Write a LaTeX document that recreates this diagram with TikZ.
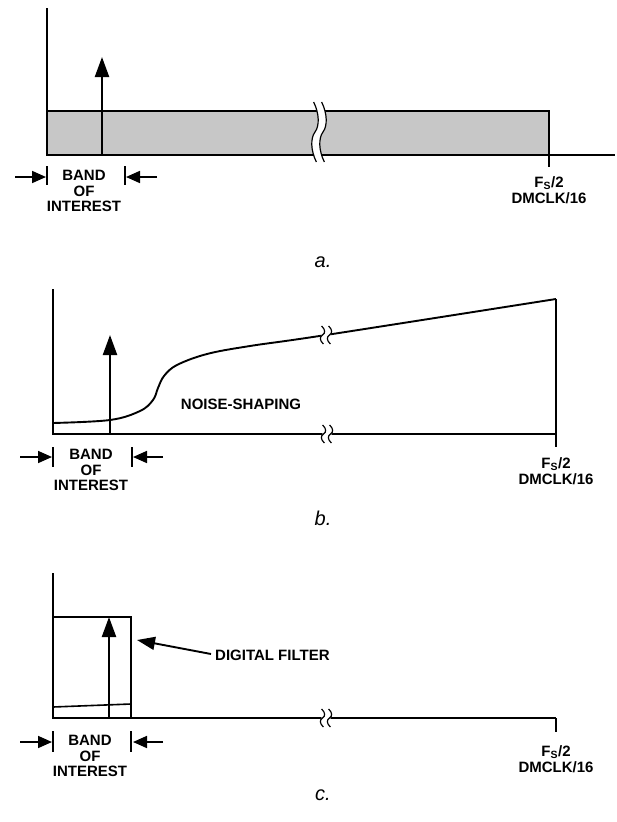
\documentclass[tikz,border=0pt]{standalone}
\usepackage{fontspec}
\setmainfont{Liberation Sans}
\usetikzlibrary{arrows.meta}
\tikzset{
  axisln/.style={line width=1.4pt},
  sigarr/.style={line width=2.3pt, -{Triangle[length=20pt,width=14pt]}},
  bandarr/.style={line width=1.7pt, -{Triangle[length=14pt,width=12pt]}},
  tickln/.style={line width=1.2pt},
  lbl/.style={font=\fontsize{15}{15.5}\selectfont\bfseries, inner sep=0pt, align=center},
  capt/.style={font=\fontsize{20}{22}\selectfont\itshape, inner sep=0pt},
  noise/.style={line width=1.9pt},
  brkln/.style={line width=1.2pt},
}
\newcommand\spath[4]{({#1-0.3*#4},{#2-#3}) .. controls ({#1+#4},{#2-0.6*#3}) and ({#1+#4},{#2-0.2*#3}) .. ({#1},{#2}) .. controls ({#1-#4},{#2+0.2*#3}) and ({#1-#4},{#2+0.6*#3}) .. ({#1+0.3*#4},{#2+#3})}
\newcommand\mybreak[5]{%
  \draw[white, line width=#5pt] \spath{#1}{#2}{#3}{#4};
  \draw[brkln] \spath{#1-#5/2}{#2}{#3}{#4};
  \draw[brkln] \spath{#1+#5/2}{#2}{#3}{#4};
}
\begin{document}
\begin{tikzpicture}[x=1pt,y=-1pt]
\useasboundingbox (0,0) rectangle (616,822);

% ---------------- panel a ----------------
\coordinate (aO) at (47,155);
\coordinate (aTop) at (47,8);
\coordinate (aEnd) at (615,155);
\coordinate (aFs) at (549,155);
\coordinate (aFsT) at (549,167);
\coordinate (aSig) at (102,155);
\coordinate (aSigT) at (102,57);
\fill[black!22] (47,111) rectangle (549,155);
\draw[axisln] (47,111) -- (549,111) -- (aFs);
\draw[axisln] (aTop) -- (aO) -- (aEnd);
\draw[tickln] (aFs) -- (aFsT);
\draw[sigarr] (aSig) -- (aSigT);
\mybreak{319}{132}{30}{4.5}{8}
% band of interest
\coordinate (aL0) at (15,177);
\coordinate (aL1) at (46,177);
\coordinate (aR0) at (157,177);
\coordinate (aR1) at (126,177);
\draw[tickln] (47,166) -- (47,185);
\draw[tickln] (125,166) -- (125,185);
\draw[bandarr] (aL0) -- (aL1);
\draw[bandarr] (aR0) -- (aR1);
\node[lbl] (aband) at (84,191) {BAND\\OF\\INTEREST};
\node[lbl] (afs) at (549,190) {F\textsubscript{S}/2\\DMCLK/16};
\node[capt] (acap) at (323,262) {a.};

% ---------------- panel b ----------------
\coordinate (bO) at (53,434);
\coordinate (bTop) at (53,289);
\coordinate (bEnd) at (556,434);
\coordinate (bFsT) at (556,447);
\coordinate (bRt) at (556,299);
\coordinate (bSig) at (110,434);
\coordinate (bSigT) at (110,335);
\draw[noise] plot[smooth, tension=0.6] coordinates {(53,423) (110,420) (140,411) (153,400) (158,388) (164,376) (177,365) (207,354) (250,346) (326,335) (556,299)};
\draw[axisln] (bTop) -- (bO) -- (bEnd);
\draw[axisln] (bRt) -- (bFsT);
\draw[sigarr] (bSig) -- (bSigT);
\mybreak{326}{335}{9}{3}{7}
\mybreak{327}{434}{9}{3}{7}
\coordinate (bL0) at (20,457);
\coordinate (bL1) at (52,457);
\coordinate (bR0) at (163,457);
\coordinate (bR1) at (133,457);
\draw[tickln] (53,447) -- (53,467);
\draw[tickln] (132,447) -- (132,467);
\draw[bandarr] (bL0) -- (bL1);
\draw[bandarr] (bR0) -- (bR1);
\node[lbl] (bband) at (91,470) {BAND\\OF\\INTEREST};
\node[lbl] (bns) at (241,404) {NOISE-SHAPING};
\node[lbl] (bfs) at (556,471) {F\textsubscript{S}/2\\DMCLK/16};
\node[capt] (bcap) at (323,518) {b.};

% ---------------- panel c ----------------
\coordinate (cO) at (53,718);
\coordinate (cTop) at (53,573);
\coordinate (cEnd) at (556,718);
\coordinate (cFsT) at (556,732);
\coordinate (cSig) at (109,718);
\coordinate (cSigT) at (109,617);
\draw[axisln] (53,617) rectangle (131,718);
\draw[noise, line width=1.6pt] (53,707) -- (131,704);
\draw[axisln] (cTop) -- (cO) -- (cEnd);
\draw[tickln] (cEnd) -- (cFsT);
\draw[sigarr] (cSig) -- (cSigT);
\mybreak{326}{718}{9}{3}{7}
\coordinate (cL0) at (20,742);
\coordinate (cL1) at (52,742);
\coordinate (cR0) at (163,742);
\coordinate (cR1) at (133,742);
\draw[tickln] (53,731) -- (53,752);
\draw[tickln] (131,731) -- (131,752);
\draw[bandarr] (cL0) -- (cL1);
\draw[bandarr] (cR0) -- (cR1);
\node[lbl] (cband) at (90,756) {BAND\\OF\\INTEREST};
\node[lbl, anchor=west] (cdf) at (215,655) {DIGITAL FILTER};
\coordinate (cdfT) at (137,640);
\draw[line width=1.9pt, -{Triangle[length=18pt,width=13pt]}] (cdf.west) ++(-4,-1) coordinate (cdfS) -- (cdfT);
\node[lbl] (cfs) at (556,759) {F\textsubscript{S}/2\\DMCLK/16};
\node[capt] (ccap) at (323,795) {c.};
\end{tikzpicture}
\end{document}
